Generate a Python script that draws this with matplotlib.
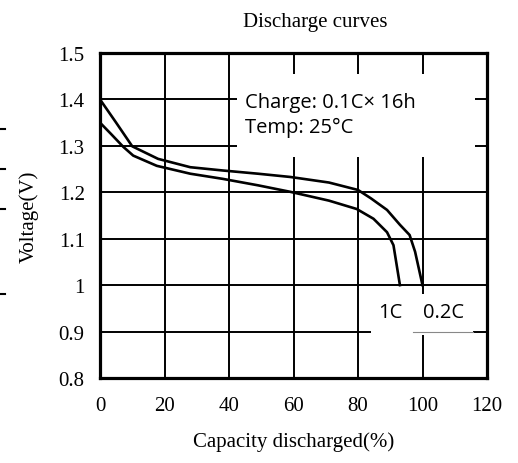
import matplotlib
matplotlib.use('Agg')
import matplotlib.pyplot as plt
from matplotlib.patches import Rectangle
from matplotlib.lines import Line2D

# curves
cap_02c = [0, 5, 10, 18, 28, 38, 49, 59, 71, 80, 84, 89, 93, 96, 97.7, 100]
volt_02c = [1.40, 1.35, 1.299, 1.272, 1.254, 1.247, 1.240, 1.233, 1.221, 1.205,
            1.187, 1.162, 1.13, 1.108, 1.072, 1.0]
cap_1c = [0, 3.5, 7.2, 10.3, 17.6, 28, 38, 49, 59, 71, 79.6, 84.8, 89, 91, 93]
volt_1c = [1.35, 1.325, 1.298, 1.279, 1.257, 1.240, 1.229, 1.215, 1.201, 1.182,
           1.164, 1.143, 1.114, 1.086, 1.0]

xticks = [0, 20, 40, 60, 80, 100, 120]
yticks = [0.8, 0.9, 1.0, 1.1, 1.2, 1.3, 1.4, 1.5]
ytick_labels = ['0.8', '0.9', '1', '1.1', '1.2', '1.3', '1.4', '1.5']

serif = 'Liberation Serif'
sans = 'Open Sans'

fig = plt.figure(figsize=(5.18, 4.64), dpi=100)
ax = fig.add_axes([100 / 518, 1 - 379 / 464, 387 / 518, 325 / 464])

ax.plot(cap_02c, volt_02c, color='black', lw=1.9, zorder=3)
ax.plot(cap_1c, volt_1c, color='black', lw=1.9, zorder=3)

ax.set_xlim(0, 120)
ax.set_ylim(0.8, 1.5)
ax.set_xticks(xticks)
ax.set_xticklabels([str(t) for t in xticks], family=serif, fontsize=15)
ax.set_yticks(yticks)
ax.set_yticklabels(ytick_labels, family=serif, fontsize=15)
ax.tick_params(length=0)
ax.tick_params(axis='x', pad=13)
ax.tick_params(axis='y', pad=11)
ax.grid(True, color='black', lw=1.4, zorder=1)
for s in ax.spines.values():
    s.set_linewidth(2.3)
    s.set_zorder(4)

ax.set_xlabel('Capacity discharged(%)', family=serif, fontsize=15, labelpad=12)
ax.set_ylabel('Voltage(V)', family=serif, fontsize=15, labelpad=14)
fig.text(315 / 518, 1 - 22 / 464, 'Discharge curves', family=serif,
         fontsize=15, ha='center', va='center')

# white patches hiding the grid behind the notes
ax.add_patch(Rectangle((42.5, 1.276), 73.8, 0.179, facecolor='white',
                       edgecolor='none', zorder=2))
ax.add_patch(Rectangle((84.0, 0.893), 31.6, 0.087, facecolor='white',
                       edgecolor='none', zorder=2))
ax.plot([97, 115.6], [0.9, 0.9], color='#888888', lw=0.8, zorder=2)

ax.text(45, 1.394, 'Charge: 0.1C\u00d7 16h', family=sans, fontsize=14.5,
        ha='left', va='center', zorder=3)
ax.text(45, 1.340, 'Temp: 25\u00b0C', family=sans, fontsize=14.5,
        ha='left', va='center', zorder=3)
ax.text(89.9, 0.942, '1C', family=sans, fontsize=14.5, ha='center',
        va='center', zorder=3)
ax.text(106.4, 0.942, '0.2C', family=sans, fontsize=14.5, ha='center',
        va='center', zorder=3)

# stray dashes at the left edge of the scan
for py in [130, 170, 210, 295]:
    fig.add_artist(Line2D([0, 5 / 518], [1 - py / 464, 1 - py / 464],
                          color='black', lw=1.5))

fig.savefig('out.png', dpi=100)
